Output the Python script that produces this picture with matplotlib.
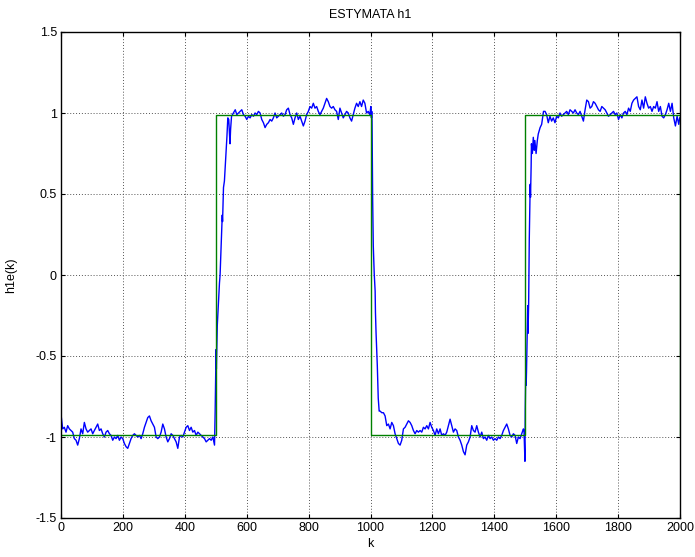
#!/usr/bin/python3
'''
ESTYMATA h1 - estymata parametru h1 (niebieska) i wartosc rzeczywista (zielona)
'''
import numpy as np
import matplotlib
matplotlib.use('Agg')
import matplotlib.pyplot as plt

# wartosc rzeczywista h1 - fala prostokatna
h1_k = [0, 500, 1000, 1500, 2000]
h1_val = [-0.99, 0.99, -0.99, 0.99, -0.99]

# estymata h1e(k), odczytana z wykresu
# odcinek 1: k 0..496
seg1_k = (0, 496)
seg1_val = [-0.86, -0.95, -0.94, -0.97, -0.93, -0.95, -0.96, -0.97, -1.01, -1.02,
            -1.05, -1.01, -0.95, -0.98, -0.91, -0.95, -0.97, -0.96, -0.95, -0.98,
            -0.96, -0.94, -0.92, -0.96, -0.95, -0.98, -1.00, -0.97, -0.96, -0.98,
            -0.99, -1.02, -1.00, -1.01, -0.99, -1.02, -1.00, -1.01, -1.04, -1.06,
            -1.07, -1.04, -1.01, -0.99, -0.98, -0.99, -1.00, -0.99, -1.01, -0.98,
            -0.94, -0.91, -0.88, -0.87, -0.90, -0.92, -0.94, -1.00, -1.01, -1.00,
            -0.97, -0.92, -0.95, -1.00, -1.03, -1.01, -0.98, -0.99, -1.01, -1.03,
            -1.07, -1.00, -0.99, -1.00, -0.97, -0.94, -0.93, -0.96, -0.94, -0.97,
            -0.96, -0.99, -0.97, -0.98, -0.99, -1.00, -1.01, -1.03, -1.02, -1.01,
            -1.02, -1.00, -1.05]
# przejscie 1
tr1_k = [498, 500, 501, 502, 505, 512, 514, 519, 521, 522, 525, 528, 532, 536,
         539, 542, 546, 548, 551, 557, 563]
tr1_val = [-0.85, -0.56, -0.46, -0.58, -0.31, -0.05, 0.0, 0.26, 0.37, 0.33, 0.54,
           0.58, 0.71, 0.85, 0.97, 0.96, 0.81, 0.90, 0.98, 1.00, 1.02]
# odcinek 2: k 568..998
seg2_k = (568, 998)
seg2_val = [0.99, 1.00, 1.01, 1.02, 0.99, 0.98, 0.96, 0.98, 0.97, 0.99,
            0.98, 1.00, 0.99, 1.01, 1.00, 0.96, 0.94, 0.91, 0.93, 0.94,
            0.96, 0.95, 0.97, 1.00, 0.97, 0.98, 0.99, 1.00, 0.98, 0.99,
            1.02, 1.03, 0.99, 0.97, 0.93, 0.97, 1.00, 0.96, 0.98, 0.95,
            0.92, 0.95, 0.99, 1.01, 1.04, 1.03, 1.06, 1.03, 1.04, 1.01,
            0.99, 1.01, 1.03, 1.06, 1.09, 1.07, 1.04, 1.03, 1.04, 1.02,
            1.01, 0.96, 1.03, 1.00, 0.97, 0.99, 1.01, 1.00, 0.97, 0.95,
            0.99, 1.03, 1.06, 1.04, 1.07, 1.04, 1.08, 1.06, 1.00, 1.01,
            0.99]
# przejscie 2
tr2_k = [1001, 1003, 1004, 1005, 1007, 1009, 1010, 1012, 1015, 1016, 1018, 1022,
         1025, 1028]
tr2_val = [1.04, 0.97, 1.01, 0.95, 0.46, 0.18, 0.12, 0.01, -0.10, -0.23, -0.36,
           -0.56, -0.76, -0.84]
# odcinek 3: k 1031..1494
seg3_k = (1031, 1494)
seg3_val = [-0.84, -0.85, -0.85, -0.87, -0.93, -0.92, -0.95, -0.91, -0.93, -0.98,
            -1.01, -1.04, -1.05, -1.02, -0.95, -0.94, -0.92, -0.90, -0.91, -0.93,
            -0.96, -0.98, -0.96, -0.97, -0.96, -0.97, -0.94, -0.95, -0.93, -0.95,
            -0.91, -0.94, -0.96, -0.99, -0.95, -0.98, -0.95, -0.99, -0.98, -0.99,
            -0.97, -0.93, -0.89, -0.93, -0.97, -0.95, -0.96, -1.00, -1.02, -1.05,
            -1.09, -1.11, -1.05, -1.03, -1.00, -0.93, -0.96, -0.97, -0.93, -0.97,
            -1.00, -0.97, -1.01, -1.00, -1.02, -0.99, -1.01, -1.00, -1.02, -1.01,
            -1.02, -1.00, -1.01, -0.99, -0.96, -0.94, -0.92, -0.95, -0.99, -1.00,
            -0.98, -0.99, -1.04, -1.00, -1.01, -0.98, -0.95]
# przejscie 3
tr3_k = [1496, 1499, 1500, 1502, 1503, 1504, 1507, 1508, 1509, 1511, 1513, 1516,
         1517, 1519, 1520, 1523, 1526, 1529, 1531, 1535, 1539, 1542, 1548, 1553,
         1559, 1564]
tr3_val = [-0.96, -1.15, -0.83, -0.54, -0.68, -0.60, -0.31, -0.19, -0.36, -0.17,
           0.22, 0.56, 0.48, 0.67, 0.81, 0.75, 0.85, 0.77, 0.83, 0.75, 0.83, 0.87,
           0.91, 0.93, 1.01, 1.01]
# odcinek 4: k 1569..1996
seg4_k = (1569, 1996)
seg4_val = [0.99, 0.94, 0.98, 0.95, 0.97, 0.94, 0.98, 0.97, 1.00, 0.98,
            0.99, 1.00, 1.01, 0.99, 1.02, 1.01, 1.00, 1.02, 1.00, 0.99,
            1.01, 0.98, 0.95, 1.02, 1.08, 1.07, 1.03, 1.04, 1.07, 1.06,
            1.04, 1.02, 1.01, 1.04, 1.03, 1.02, 1.00, 0.98, 0.99, 1.00,
            1.01, 0.99, 1.00, 0.96, 0.99, 0.97, 1.00, 1.01, 0.99, 1.03,
            1.01, 1.06, 1.08, 1.09, 1.10, 1.04, 1.02, 1.08, 1.03, 1.10,
            1.06, 1.03, 1.04, 1.01, 1.04, 1.03, 1.07, 1.01, 1.04, 0.98,
            0.97, 0.99, 1.02, 1.06, 1.01, 1.06, 0.97, 0.92, 0.98, 0.93]
end_k = [1999]
end_val = [0.97]


def seg(rng, vals):
    return np.linspace(rng[0], rng[1], len(vals))


h1e_k = np.concatenate([seg(seg1_k, seg1_val), tr1_k, seg(seg2_k, seg2_val), tr2_k,
                        seg(seg3_k, seg3_val), tr3_k, seg(seg4_k, seg4_val), end_k])
h1e_val = np.concatenate([seg1_val, tr1_val, seg2_val, tr2_val,
                          seg3_val, tr3_val, seg4_val, end_val])

plt.rcParams['font.family'] = ['Liberation Sans', 'DejaVu Sans']
plt.rcParams['font.size'] = 9
plt.rcParams['axes.unicode_minus'] = False

fig = plt.figure(figsize=(6.95, 5.57), dpi=100)
ax = fig.add_axes([61 / 695, 39 / 557, 619 / 695, 486 / 557])

ax.plot(h1e_k, h1e_val, color='#0000ff', linewidth=1.0)
ax.plot(h1_k, h1_val, color='#008000', linewidth=1.0, drawstyle='steps-post')

ax.set_xlim(0, 2000)
ax.set_ylim(-1.5, 1.5)
ax.set_xticks(np.arange(0, 2001, 200))
ax.set_yticks([-1.5, -1, -0.5, 0, 0.5, 1, 1.5])
ax.set_yticklabels(['-1.5', '-1', '-0.5', '0', '0.5', '1', '1.5'])
ax.tick_params(direction='in', length=3, width=0.8, top=True, right=True, pad=3)
ax.grid(True, color='#555555', linestyle=(0, (1, 2)), linewidth=0.7)
for s in ax.spines.values():
    s.set_linewidth(1.0)

ax.set_title('ESTYMATA h1', fontsize=9, pad=10)
ax.set_xlabel('k', labelpad=3)
ax.set_ylabel('h1e(k)', labelpad=13)

fig.savefig('out.png', dpi=100)
